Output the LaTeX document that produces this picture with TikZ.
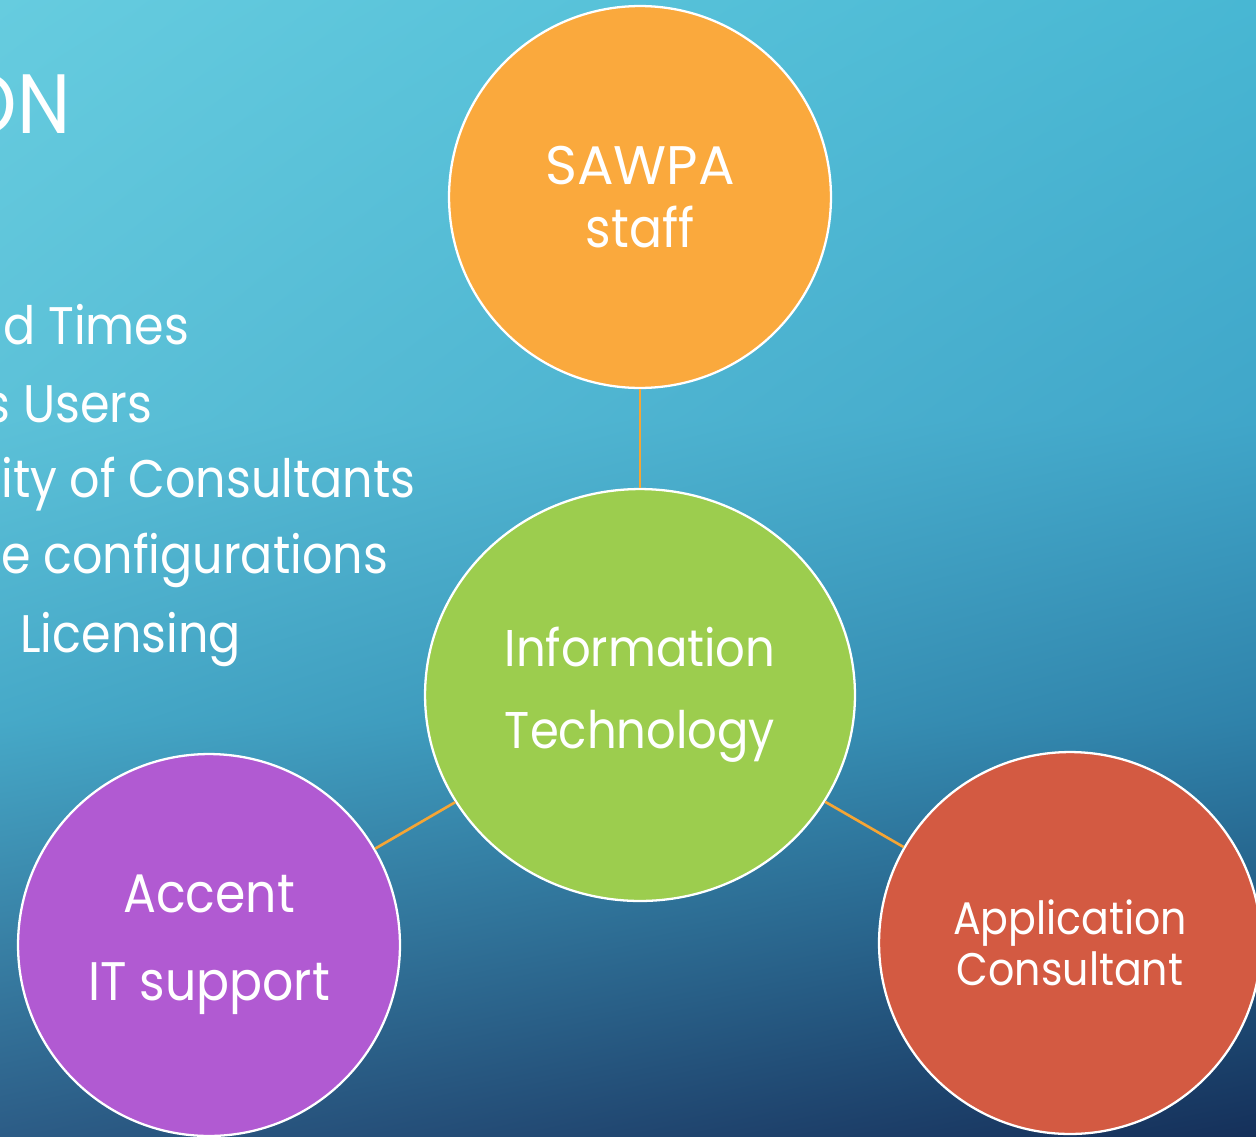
\documentclass[tikz,border=0pt]{standalone}
\usepackage{fontspec}
\setmainfont{Poppins}[FakeStretch=0.9]
\newfontfamily\capsfont{Poppins}
\usetikzlibrary{shapes.geometric,shadings}
\definecolor{bgA}{HTML}{66CCDF}
\definecolor{bgB}{HTML}{48B7D3}
\definecolor{bgC}{HTML}{5CC1D8}
\definecolor{bgD}{HTML}{40A6C9}
\definecolor{bgE}{HTML}{46A9C8}
\definecolor{bgF}{HTML}{2F82AA}
\definecolor{bgG}{HTML}{2C5C86}
\definecolor{bgH}{HTML}{15305A}
\definecolor{sawpaorange}{HTML}{FAA93D}
\definecolor{itgreen}{HTML}{9CCD4E}
\definecolor{accentpurple}{HTML}{B15AD2}
\definecolor{appred}{HTML}{D35A42}
\definecolor{linkorange}{HTML}{F5A534}
\tikzset{
  bubble/.style={circle,draw=white,line width=1.3pt,minimum size=7.64cm,inner sep=0pt,text=white,align=center},
  link/.style={draw=linkorange,line width=1.5pt},
  sidetext/.style={text=white,anchor=base west,inner sep=0pt,font=\fontsize{30.1}{40}\selectfont}
}

\begin{document}
\begin{tikzpicture}[x=0.02cm,y=-0.02cm]
\useasboundingbox (0,0) rectangle (1256,1136);
\clip (0,0) rectangle (1256,1136);
\shade[upper left=bgA,upper right=bgB,lower left=bgC,lower right=bgD] (0,0) rectangle (1256,420);
\shade[upper left=bgC,upper right=bgD,lower left=bgE,lower right=bgF] (0,420) rectangle (1256,720);
\shade[upper left=bgE,upper right=bgF,lower left=bgG,lower right=bgH] (0,720) rectangle (1256,1136);
\node[sidetext,anchor=base east,font=\fontsize{47.9}{60}\selectfont] (title) at (71,133) {ON};
\node[sidetext] (l1) at (48,344) {\llap{d }Times};
\node[sidetext] (l2) at (23,422) {\llap{s }Users};
\node[sidetext] (l3) at (1,497) {ity of Consultants};
\node[sidetext] (l4) at (43,573) {\llap{e }configurations};
\node[sidetext] (l5) at (20,652) {Licensing};
\node[bubble,fill=sawpaorange,font=\fontsize{30.9}{35.9}\selectfont] (sawpa) at (640,197) {{\capsfont SAWPA}\\staff};
\node[bubble,ellipse,fill=itgreen,minimum width=8.6cm,minimum height=8.24cm,font=\fontsize{29.4}{46.7}\selectfont] (it) at (640,695) {Information\\Technology};
\node[bubble,fill=accentpurple,font=\fontsize{30.9}{50.1}\selectfont] (accent) at (209,945) {Accent\\IT support};
\node[bubble,fill=appred,font=\fontsize{26}{29}\selectfont] (app) at (1070,943) {Application\\Consultant};
\draw[link] (sawpa) -- (it);
\draw[link] (it) -- (accent);
\draw[link] (it) -- (app);
\end{tikzpicture}
\end{document}
